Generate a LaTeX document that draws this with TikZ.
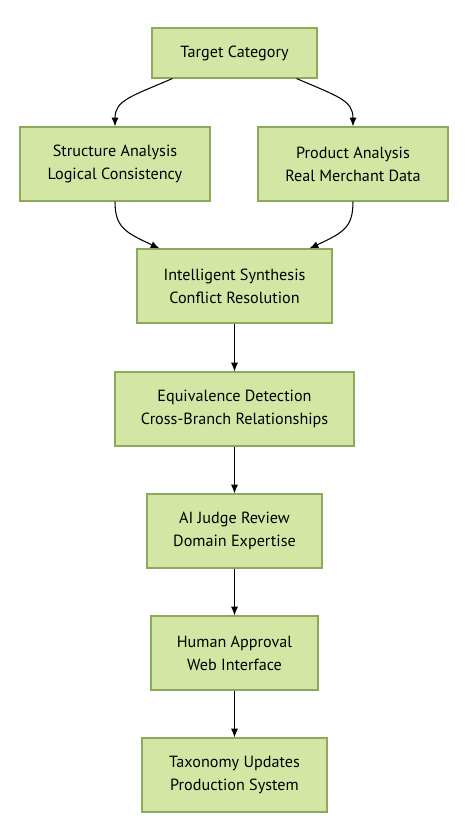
\documentclass[tikz,border=0pt]{standalone}
\usepackage{fontspec}
\setsansfont{PT Sans}
\usepackage{xcolor}
\definecolor{stagefill}{HTML}{D4E6A4}
\definecolor{stageline}{HTML}{8CAA5A}
\usetikzlibrary{arrows.meta, calc}

\begin{document}
\begin{tikzpicture}[x=0.02cm, y=-0.02cm, font=\sffamily\fontsize{9.2}{13}\selectfont,
  stage/.style={fill=stagefill, draw=stageline, line width=0.6pt, align=center,
    inner sep=0pt},
  flow/.style={-{Latex[length=5pt,width=4pt]}, line width=0.6pt}]
  \useasboundingbox (0,0) rectangle (470,840);
  % Source node and the two parallel analyses.
  \node[stage,minimum width=165*0.02cm,minimum height=50*0.02cm] (target) at (234.5,53) {Target Category};
  \node[stage,minimum width=190*0.02cm,minimum height=74*0.02cm] (structure) at (115,164) {Structure Analysis\\Logical Consistency};
  \node[stage,minimum width=190*0.02cm,minimum height=74*0.02cm] (product) at (353,164) {Product Analysis\\Real Merchant Data};
  % Linear pipeline below the merge.
  \node[stage,minimum width=195*0.02cm,minimum height=74*0.02cm] (synthesis) at (234.5,286) {Intelligent Synthesis\\Conflict Resolution};
  \node[stage,minimum width=239*0.02cm,minimum height=74*0.02cm] (equivalence) at (234.5,409) {Equivalence Detection\\Cross-Branch Relationships};
  \node[stage,minimum width=175*0.02cm,minimum height=74*0.02cm] (judge) at (234.5,531) {AI Judge Review\\Domain Expertise};
  \node[stage,minimum width=167*0.02cm,minimum height=74*0.02cm] (approval) at (234.5,653) {Human Approval\\Web Interface};
  \node[stage,minimum width=185*0.02cm,minimum height=74*0.02cm] (updates) at (234.5,775) {Taxonomy Updates\\Production System};
  % Split and merge (curved edges).
  \draw[flow] ($(target.south)+(-62,0)$) .. controls +(-42,18) and +(0,-26) .. (structure.north);
  \draw[flow] ($(target.south)+(62,0)$) .. controls +(42,18) and +(0,-26) .. (product.north);
  \draw[flow] (structure.south) .. controls +(0,26) and +(-34,-16) .. ($(synthesis.north)+(-75,0)$);
  \draw[flow] (product.south) .. controls +(0,26) and +(34,-16) .. ($(synthesis.north)+(75,0)$);
  % Straight chain.
  \draw[flow] (synthesis) -- (equivalence);
  \draw[flow] (equivalence) -- (judge);
  \draw[flow] (judge) -- (approval);
  \draw[flow] (approval) -- (updates);
\end{tikzpicture}
\end{document}
